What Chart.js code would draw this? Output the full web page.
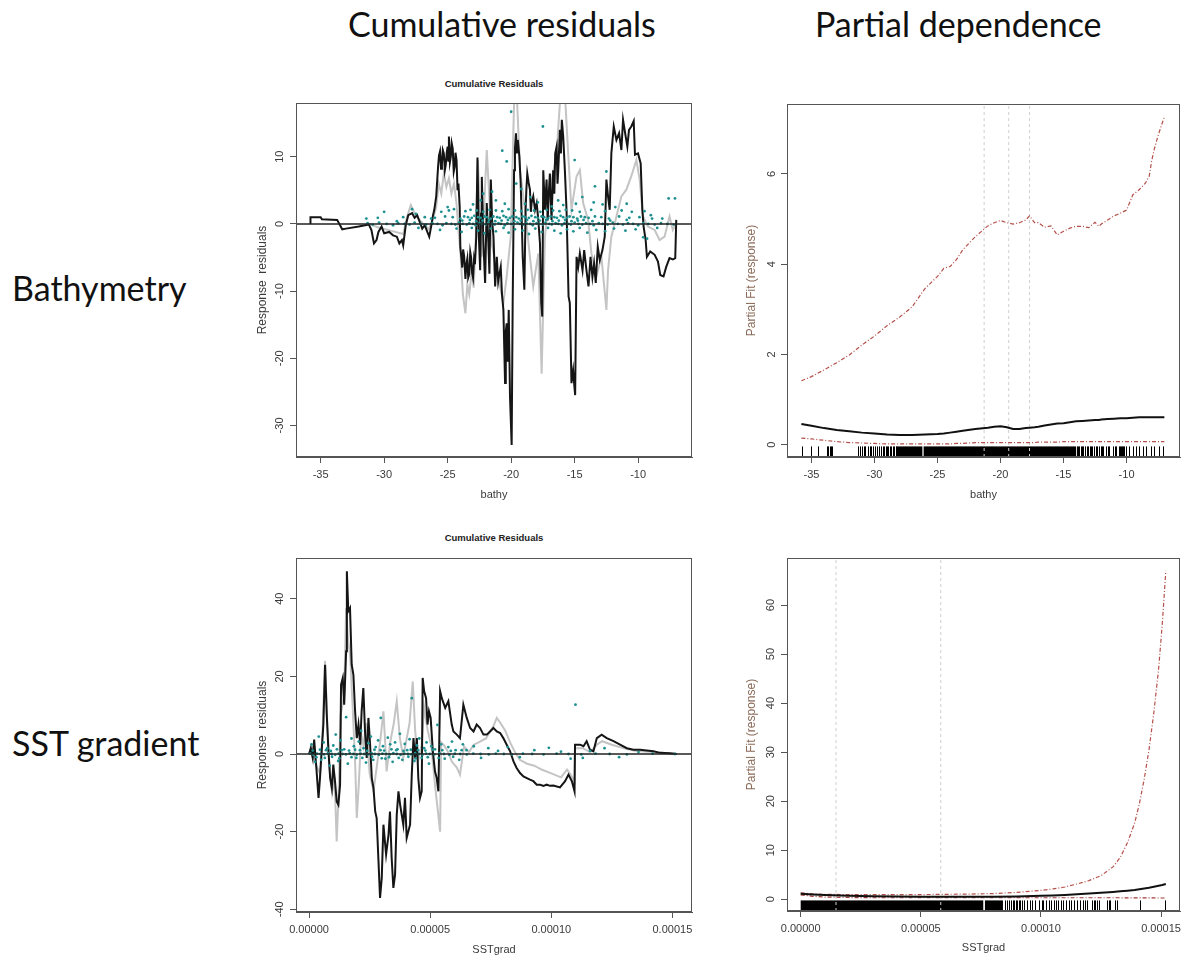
<!DOCTYPE html>
<html>
<head>
<meta charset="utf-8">
<script src="https://cdn.jsdelivr.net/npm/chart.js@4.4.0/dist/chart.umd.min.js"></script>
<style>
  body { margin: 0; background: #fff; width: 1187px; height: 957px; position: relative; overflow: hidden; }
  .head { position: absolute; font-family: Lato, "Open Sans", sans-serif; font-size: 34px; line-height: 1; color: #111; white-space: nowrap; }
  .panel { position: absolute; }
  .ptitle { position: absolute; width: 396px; text-align: center; font: bold 9.5px "Liberation Sans", Arial, sans-serif; color: #222; }
</style>
</head>
<body>
<div class="head" style="left:348px; top:7px;">Cumulative residuals</div>
<div class="head" style="left:815px; top:7px;">Partial dependence</div>
<div class="head" style="left:12px; top:271px;">Bathymetry</div>
<div class="head" style="left:12px; top:726px;">SST gradient</div>

<div class="ptitle" style="left:296px; top:78px;">Cumulative Residuals</div>
<div class="ptitle" style="left:296px; top:532px;">Cumulative Residuals</div>

<canvas class="panel" id="resBathy" width="460" height="440" style="left:240px; top:70px;"></canvas>
<canvas class="panel" id="pdBathy" width="457" height="420" style="left:730px; top:90px;"></canvas>
<canvas class="panel" id="resSst" width="460" height="432" style="left:240px; top:525px;"></canvas>
<canvas class="panel" id="pdSst" width="457" height="417" style="left:730px; top:540px;"></canvas>

<script>
// ---------- bathymetry: cumulative residuals ----------
const bathyObsPath = [[-35.8,0],[-35.8,1.0],[-35.0,1.0],[-34.9,0.7],[-33.7,0.6],[-33.3,-0.8],[-33.0,-0.7],[-32.0,-0.4],[-31.2,-0.1],[-31.0,-0.9],[-30.8,-2.9],[-30.6,-2.4],[-30.45,-1.2],[-30.2,-0.4],[-30.0,-1.4],[-29.6,-1.2],[-29.3,-1.7],[-29.0,-1.9],[-28.8,-2.9],[-28.6,-2.4],[-28.5,-3.2],[-28.3,-0.2],[-28.1,1.3],[-27.8,1.6],[-27.6,0.9],[-27.4,1.3],[-27.2,0.3],[-27.0,-0.7],[-26.8,-0.2],[-26.6,-1.2],[-26.45,-1.9],[-26.3,-0.4],[-26.15,1.3],[-26.05,2.1],[-25.9,4.1],[-25.75,8.6],[-25.68,10.2],[-25.6,10.8],[-25.52,8.2],[-25.45,9.0],[-25.38,11.0],[-25.3,10.5],[-25.22,8.0],[-25.15,8.8],[-25.07,10.6],[-25.0,11.5],[-24.95,9.4],[-24.9,13.0],[-24.82,9.2],[-24.75,10.0],[-24.68,12.0],[-24.6,11.2],[-24.52,7.8],[-24.45,8.5],[-24.38,10.6],[-24.3,9.5],[-24.22,5.0],[-24.15,6.0],[-24.05,2.5],[-24.0,-3.5],[-23.92,-5.0],[-23.85,-6.5],[-23.78,-3.8],[-23.7,-4.8],[-23.6,-8.2],[-23.52,-6.0],[-23.45,-5.2],[-23.38,-8.0],[-23.3,-7.5],[-23.22,-4.2],[-23.15,-5.0],[-23.08,-7.2],[-23.0,-8.0],[-22.92,-5.2],[-22.85,-6.0],[-22.75,-2.0],[-22.65,9.9],[-22.55,-1.5],[-22.44,-6.9],[-22.37,1.5],[-22.31,7.0],[-22.18,-3.0],[-22.05,-8.8],[-21.92,3.1],[-21.8,-2.5],[-21.71,-7.4],[-21.6,6.6],[-21.5,0.5],[-21.39,-1.9],[-21.26,-9.3],[-21.13,-4.9],[-21.02,-8.6],[-20.92,-7.4],[-20.82,-6.4],[-20.72,-10.5],[-20.61,-12.8],[-20.48,-23.7],[-20.42,-16.0],[-20.35,-14.8],[-20.27,-20.5],[-20.19,-12.8],[-20.09,-25.7],[-19.96,-32.9],[-19.88,-11.8],[-19.77,8.0],[-19.7,11.2],[-19.62,13.5],[-19.55,10.5],[-19.48,12.5],[-19.35,10.0],[-19.25,6.1],[-19.17,1.0],[-19.09,-4.9],[-18.96,-9.8],[-18.86,2.1],[-18.8,5.2],[-18.73,7.5],[-18.62,6.1],[-18.52,5.1],[-18.45,1.8],[-18.39,3.1],[-18.26,4.1],[-18.12,2.1],[-17.99,3.1],[-17.86,0.6],[-17.73,-2.9],[-17.63,-11.8],[-17.55,-13.8],[-17.47,8.0],[-17.34,2.1],[-17.21,6.6],[-17.12,0.5],[-17.05,4.1],[-16.95,7.5],[-16.82,0.6],[-16.69,8.0],[-16.6,4.5],[-16.53,10.5],[-16.42,11.5],[-16.35,6.0],[-16.29,8.0],[-16.16,14.0],[-16.08,10.5],[-16.01,15.5],[-15.9,13.0],[-15.77,8.0],[-15.64,2.1],[-15.55,-5.0],[-15.48,-10.8],[-15.38,-11.8],[-15.25,-23.7],[-15.12,-21.8],[-15.04,-23.8],[-14.96,-25.5],[-14.85,-4.9],[-14.72,-6.4],[-14.59,-4.4],[-14.38,-6.9],[-14.25,-3.9],[-14.07,-6.9],[-13.91,-9.3],[-13.75,-4.9],[-13.6,-7.9],[-13.47,-5.9],[-13.34,-8.8],[-13.18,-3.4],[-13.02,-5.4],[-12.81,-3.9],[-12.63,-1.9],[-12.5,6.6],[-12.37,4.1],[-12.24,2.1],[-12.11,10.5],[-11.92,14.5],[-11.71,12.5],[-11.5,13.5],[-11.32,11.0],[-11.19,15.5],[-10.98,13.0],[-10.85,11.5],[-10.72,14.0],[-10.54,14.5],[-10.35,15.3],[-10.25,10.3],[-10.01,10.5],[-9.8,9.0],[-9.67,2.1],[-9.57,-0.4],[-9.41,-2.4],[-9.31,-4.9],[-9.05,-4.1],[-8.7,-4.6],[-8.44,-5.6],[-8.26,-7.6],[-8.0,-7.8],[-7.79,-6.4],[-7.53,-5.1],[-7.27,-5.3],[-7.08,-5.1],[-7.0,0.6]];

const bathySimPath = [[-31.2,0],[-30.5,-0.5],[-29.5,-1.0],[-28.5,-1.5],[-28.2,1.0],[-27.9,2.8],[-27.5,1.2],[-27.0,0.2],[-26.5,-0.8],[-26.2,0.5],[-25.9,2.5],[-25.7,6.0],[-25.5,4.5],[-25.3,7.5],[-25.1,5.5],[-24.9,6.8],[-24.7,4.5],[-24.5,6.0],[-24.3,3.0],[-24.15,-1.0],[-24.0,-4.0],[-23.8,-10.5],[-23.6,-13.3],[-23.45,-9.0],[-23.3,-10.5],[-23.1,-7.0],[-22.95,-9.5],[-22.8,-3.0],[-22.62,9.5],[-22.31,-4.9],[-21.92,11.0],[-21.53,-2.9],[-21.13,-6.9],[-20.61,-11.8],[-20.35,-7.8],[-20.03,-1.9],[-19.75,19.5],[-19.56,19.5],[-19.3,8.0],[-18.91,2.1],[-18.52,-4.9],[-18.26,-9.3],[-17.86,-4.4],[-17.6,-22.3],[-17.34,-1.9],[-16.95,5.1],[-16.42,10.5],[-16.11,19.5],[-15.77,19.5],[-15.51,10.5],[-15.25,2.1],[-14.85,7.1],[-14.59,8.0],[-14.33,3.1],[-13.94,0.6],[-13.68,-4.4],[-13.28,-7.8],[-12.89,-4.9],[-12.5,-12.8],[-12.37,-6.9],[-12.11,-1.9],[-11.71,1.1],[-11.32,4.1],[-10.93,5.1],[-10.54,7.1],[-10.14,9.5],[-9.88,6.6],[-9.62,1.1],[-9.23,-0.4],[-8.7,-0.9],[-8.31,-2.4],[-7.92,-1.9],[-7.53,1.1],[-7.27,-0.9],[-7.0,0.1]];

const bathyResid = [
  [-31.3,0.1],[-30.9,-0.1],[-30.4,0.2],[-29.8,0],[-29.3,-0.2],[-28.9,0.1],[-28.4,0],[-28.0,-0.1],[-27.6,0.2],[-27.1,0],[-26.7,-0.1],[-26.2,0.1],[-25.8,0],[-25.4,-0.2],[-25.1,0.1],[-24.7,0],[-24.4,-0.1],[-24.1,0.2],[-23.8,0],[-23.5,-0.1],[-23.3,0.1],[-23.0,0],[-22.8,-0.2],[-22.5,0.1],[-22.3,0],[-22.0,-0.1],[-21.8,0.2],[-21.5,0],[-21.3,-0.1],[-21.0,0.1],[-20.8,0],[-20.5,-0.2],[-20.3,0.1],[-20.0,0],[-19.8,-0.1],[-19.5,0.2],[-19.3,0],[-19.0,-0.1],[-18.8,0.1],[-18.5,0],[-18.3,-0.2],[-18.0,0.1],[-17.8,0],[-17.5,-0.1],[-17.3,0.2],[-17.0,0],[-16.8,-0.1],[-16.5,0.1],[-16.3,0],[-16.0,-0.2],[-15.8,0.1],[-15.5,0],[-15.3,-0.1],[-15.0,0.2],[-14.7,0],[-14.4,-0.1],[-14.1,0.1],[-13.8,0],[-13.5,-0.2],[-13.1,0.1],[-12.8,0],[-12.4,-0.1],[-12.0,0.2],[-11.6,0],[-11.2,-0.1],[-10.8,0.1],[-10.4,0],[-10.0,-0.2],[-9.6,0.1],[-9.2,0],[-8.7,-0.1],[-8.2,0.1],[-7.7,0],[-7.2,-0.1],
  [-26.0,0.9],[-25.2,1.1],[-24.6,1.0],[-24.0,0.8],[-23.7,1.1],[-23.4,1.0],[-23.1,0.9],[-22.9,1.2],[-22.6,1.0],[-22.4,0.9],[-22.1,1.1],[-21.9,1.0],[-21.6,0.8],[-21.4,1.1],[-21.1,1.0],[-20.9,0.9],[-20.6,1.2],[-20.4,1.0],[-20.1,0.9],[-19.9,1.1],[-19.6,1.0],[-19.4,0.8],[-19.1,1.1],[-18.9,1.0],[-18.6,0.9],[-18.4,1.2],[-18.1,1.0],[-17.9,0.9],[-17.6,1.1],[-17.4,1.0],[-17.1,0.8],[-16.9,1.1],[-16.6,1.0],[-16.4,0.9],[-16.1,1.2],[-15.9,1.0],[-15.6,0.9],[-15.4,1.1],[-15.1,1.0],[-14.8,0.8],[-14.5,1.1],[-14.2,1.0],[-13.9,0.9],[-13.4,1.1],[-12.9,1.0],[-12.3,0.8],[-11.5,1.1],[-10.7,0.9],[-9.9,1.0],[-8.9,0.8],
  [-23.85,0.5],[-23.25,0.6],[-22.75,0.4],[-22.25,0.5],[-21.75,0.6],[-21.25,0.4],[-20.75,0.5],[-20.25,0.6],[-19.75,0.4],[-19.25,0.5],[-18.75,0.6],[-18.25,0.4],[-17.75,0.5],[-17.25,0.6],[-16.75,0.4],[-16.25,0.5],[-15.75,0.6],[-15.25,0.4],[-14.75,0.5],[-14.3,0.6],[-13.6,0.4],[-12.2,0.5],[-10.9,0.6],
  [-24.9,2.0],[-23.6,1.9],[-23.2,2.1],[-22.7,2.0],[-22.2,1.8],[-21.7,2.1],[-21.2,2.0],[-20.7,1.9],[-20.2,2.2],[-19.7,2.0],[-19.2,1.9],[-18.7,2.1],[-18.2,2.0],[-17.7,1.8],[-17.2,2.1],[-16.7,2.0],[-16.2,1.9],[-15.7,2.1],[-15.2,2.0],[-14.6,1.8],[-13.7,2.1],[-12.6,1.9],[-11.3,2.0],[-9.5,1.9],
  [-27.3,-0.6],[-25.6,-0.9],[-24.3,-0.7],[-23.9,-1.2],[-23.1,-0.6],[-22.6,-1.0],[-22.1,-1.4],[-21.6,-0.7],[-21.2,-1.1],[-20.6,-0.6],[-20.2,-1.3],[-19.7,-0.8],[-19.1,-1.0],[-18.6,-1.5],[-18.1,-0.7],[-17.6,-1.2],[-17.1,-0.6],[-16.6,-1.0],[-16.1,-1.4],[-15.6,-0.8],[-15.1,-1.1],[-14.6,-0.6],[-14.0,-1.3],[-13.3,-0.9],[-12.6,-1.1],[-11.9,-0.7],[-11.0,-1.0],[-10.2,-0.8],[-9.6,-2.0],[-9.3,-2.2],[-8.5,-0.6],
  [-20.0,16.7],[-17.5,14.5],[-20.7,10.9],[-20.35,9.3],[-15.0,9.5],[-12.5,7.8],[-13.4,5.6],[-7.6,3.8],[-7.1,3.8],[-19.2,5.2],[-18.5,4.0],[-21.5,4.8],[-21.2,3.5],[-22.4,3.5],[-22.2,4.5],[-20.5,3.0],[-23.0,2.9],[-14.4,4.0],[-13.5,3.2],[-16.3,3.5],[-12.8,2.9],[-17.9,3.2],[-8.1,0.8],[-9.0,1.3],[-10.5,1.8],[-27.8,2.2],[-27.5,1.5],[-28.5,1.0],[-30.0,1.8],[-31.4,0.8],[-30.5,0.9],[-29.0,0.4],[-26.8,1.0],[-26.3,0.8],[-25.5,1.8],[-25.0,2.5],[-24.5,2.2],[-19.6,6.0],[-18.9,3.0],[-16.8,2.6],[-15.9,2.8],[-14.9,3.0],[-11.8,2.5],[-10.9,3.0]
];

// ---------- bathymetry: partial dependence ----------
const bathyGrid  = [-35.8,-35,-34,-33,-32,-31,-30,-29,-28,-27,-26,-25,-24.5,-24,-23.5,-23,-22,-21,-20.5,-20,-19.5,-19,-18.5,-18,-17.7,-17.3,-17,-16.5,-16,-15.5,-15,-14.5,-14,-13.5,-13,-12.5,-12.2,-12,-11.5,-11,-10.5,-10,-9.5,-9,-8.5,-8.2,-8,-7.8,-7.5,-7.2,-7];
const bathyUpper = [1.42,1.51,1.66,1.82,1.99,2.21,2.41,2.64,2.83,3.06,3.46,3.73,3.91,3.95,4.10,4.32,4.61,4.85,4.92,4.97,4.92,4.89,4.92,4.98,5.07,4.92,4.92,4.82,4.85,4.65,4.73,4.80,4.84,4.84,4.81,4.93,4.84,4.89,4.98,5.07,5.13,5.20,5.54,5.65,5.80,5.95,6.30,6.55,6.85,7.10,7.27];
const bathyFit   = [0.46,0.42,0.37,0.33,0.30,0.27,0.25,0.23,0.22,0.22,0.23,0.24,0.25,0.27,0.29,0.31,0.35,0.38,0.40,0.41,0.39,0.35,0.35,0.37,0.38,0.39,0.40,0.43,0.45,0.47,0.48,0.50,0.52,0.53,0.54,0.55,0.55,0.56,0.57,0.58,0.59,0.59,0.60,0.61,0.61,0.61,0.61,0.61,0.61,0.61,0.61];
const bathyLower = [0.15,0.13,0.10,0.07,0.05,0.04,0.03,0.02,0.02,0.02,0.02,0.02,0.02,0.02,0.03,0.03,0.05,0.05,0.05,0.05,0.05,0.05,0.05,0.05,0.05,0.05,0.06,0.06,0.06,0.06,0.07,0.07,0.07,0.07,0.07,0.07,0.07,0.07,0.07,0.07,0.07,0.07,0.07,0.07,0.07,0.07,0.07,0.07,0.07,0.07,0.07];
const bathyKnots = [-21.3, -19.35, -17.7];
const bathyRugTicks = [-35.74,-35.0,-34.5,-33.75,-33.65,-33.55,-33.45,-33.38,-31.34,-31.13,-31.0,-30.86,-30.73,-30.55,-30.39,-30.28,-30.13,-29.94,-29.81,-29.68,-29.49,-29.33,-29.23,-29.12,-29.02,-28.89,-28.75,-28.65,-28.54,-28.44,-28.33,
  -13.95,-13.85,-13.74,-13.62,-13.52,-13.42,-13.31,-13.16,-13.05,-12.94,-12.83,-12.73,-12.55,-12.45,-12.37,-12.15,-12.02,-11.95,-11.84,-11.63,-11.5,-11.36,-11.1,-10.95,-10.84,-10.63,-10.55,-10.44,-10.38,-10.31,-10.2,-10.05,-9.78,-9.52,-9.26,-9.0,-8.73,-8.47,-8.07,-7.81,-7.46,-7.09];
const bathyRugBlocks = [[-28.25,-26.2],[-26.1,-14.0]];

// ---------- SST gradient (x in units of 1e-5): cumulative residuals ----------
const sstObsPath = [[0,0],[0.07,1.5],[0.15,-1.0],[0.21,3.7],[0.29,-2.7],[0.39,-11.3],[0.45,-6.2],[0.52,0.7],[0.59,7.6],[0.66,23.0],[0.73,10.1],[0.80,0.7],[0.87,-6.2],[0.94,-8.8],[1.00,-2.7],[1.07,-7.0],[1.14,-12.2],[1.21,-13.1],[1.28,-7.9],[1.32,17.9],[1.39,19.6],[1.45,12.7],[1.53,26.5],[1.56,47.1],[1.62,36.8],[1.69,37.6],[1.76,23.0],[1.83,20.4],[1.90,11.0],[1.97,4.1],[2.04,7.6],[2.11,2.4],[2.17,11.0],[2.24,17.0],[2.31,5.8],[2.38,-1.0],[2.45,9.3],[2.52,2.4],[2.59,-6.2],[2.66,-8.8],[2.73,-14.8],[2.79,-16.5],[2.86,-26.8],[2.93,-37.1],[3.00,-32.0],[3.07,-18.2],[3.18,-25.9],[3.28,-20.8],[3.34,-14.8],[3.41,-26.8],[3.48,-34.5],[3.55,-31.1],[3.62,-15.6],[3.69,-9.6],[3.76,-13.1],[3.89,-18.2],[3.96,-11.3],[4.03,-21.6],[4.10,-19.9],[4.17,-18.2],[4.24,-5.3],[4.31,4.1],[4.38,-1.0],[4.45,4.1],[4.51,-6.2],[4.58,-11.3],[4.65,-9.6],[4.69,19.6],[4.75,16.2],[4.83,14.4],[4.89,7.6],[4.95,11.0],[5.02,9.3],[5.11,0.7],[5.20,-4.5],[5.27,-6.2],[5.34,-9.6],[5.41,16.2],[5.48,14.4],[5.62,11.9],[5.75,13.6],[5.89,7.6],[5.96,5.8],[6.10,5.0],[6.23,4.1],[6.37,12.7],[6.51,9.3],[6.65,6.7],[6.79,5.8],[6.92,7.6],[7.06,6.7],[7.20,5.0],[7.34,5.0],[7.47,5.8],[7.61,6.7],[7.75,5.8],[7.89,5.4],[8.02,4.1],[8.16,2.4],[8.30,0.7],[8.44,-1.9],[8.57,-3.6],[8.71,-4.9],[8.85,-5.8],[8.99,-6.2],[9.12,-6.6],[9.26,-7.0],[9.40,-7.9],[9.54,-7.9],[9.68,-8.2],[9.81,-7.9],[9.95,-8.2],[10.09,-8.1],[10.36,-8.6],[10.57,-7.0],[10.71,-5.3],[10.85,-7.0],[10.96,-9.6],[10.98,2.4],[11.19,2.4],[11.33,2.0],[11.46,3.3],[11.60,1.1],[11.74,0.7],[11.88,4.1],[12.08,5.0],[12.29,4.1],[12.57,3.3],[12.84,2.4],[13.12,1.5],[13.39,1.1],[13.67,1.1],[13.94,0.9],[14.22,0.7],[14.49,0.3],[14.90,0.2],[15.18,0]];

const sstSimPath = [[0,0],[0.1,2],[0.3,-3],[0.45,-5],[0.55,5],[0.66,24.0],[0.75,8],[0.85,-4],[0.95,-10],[1.05,-6],[1.14,-22.5],[1.22,-10],[1.3,10],[1.45,15],[1.53,37.6],[1.6,30],[1.7,25],[1.8,12],[1.9,-2],[1.97,-16.5],[2.05,-8],[2.15,5],[2.25,2],[2.35,8],[2.5,-5],[2.66,-9.6],[2.8,-3],[2.95,4],[3.07,11.0],[3.15,2],[3.2,-4.5],[3.35,3],[3.5,8],[3.62,13.6],[3.75,4],[3.89,-1.0],[4.0,3],[4.15,8],[4.28,18.7],[4.38,6],[4.5,-2],[4.65,2.4],[4.75,12],[4.9,6],[5.05,2],[5.2,-8],[5.34,-16],[5.41,-20],[5.45,3],[5.55,2.4],[5.7,1],[5.9,-2],[6.1,-3.5],[6.23,-5.3],[6.4,2],[6.6,0.5],[6.8,2.4],[7.0,3],[7.3,4],[7.6,7],[7.75,9.3],[7.9,8],[8.1,6],[8.3,3],[8.5,0.5],[8.7,-1.5],[9.0,-2.5],[9.3,-3.0],[9.6,-4.0],[10.0,-5.0],[10.4,-6.0],[10.65,-4.0],[10.8,-5.3],[10.96,-7.0],[10.98,1.5],[11.3,1.5],[11.6,0.5],[11.9,2.5],[12.1,3.3],[12.5,2.4],[13.0,1.5],[13.5,0.8],[14.2,0.5],[15.18,0]];

const sstResid = [
  [0.05,0.1],[0.18,-0.2],[0.33,0.1],[0.47,0],[0.62,-0.1],[0.78,0.2],[0.93,0],[1.08,-0.2],[1.22,0.1],[1.38,0],[1.52,-0.1],[1.68,0.2],[1.83,0],[1.97,-0.2],[2.12,0.1],[2.28,0],[2.43,-0.1],[2.58,0.2],[2.72,0],[2.88,-0.2],[3.03,0.1],[3.18,0],[3.33,-0.1],[3.48,0.2],[3.62,0],[3.78,-0.2],[3.93,0.1],[4.08,0],[4.22,-0.1],[4.38,0.2],[4.53,0],[4.68,-0.2],[4.83,0.1],[4.98,0],[5.17,-0.1],[5.38,0.2],[5.57,0],[5.79,-0.2],[6.02,0.1],[6.24,0],[6.51,-0.1],[6.78,0.1],[7.08,0],[7.42,-0.1],[7.71,0.1],[8.04,0],[8.38,-0.1],[8.83,0.1],[9.21,0],[9.68,-0.1],[10.22,0.1],[10.71,0],[11.24,-0.1],[11.83,0.1],[12.41,0],[13.12,-0.1],[14.18,0.1],[15.1,0],
  [0.15,0.9],[0.45,1.1],[0.7,1.0],[0.9,0.8],[1.15,1.2],[1.35,1.0],[1.65,0.9],[1.9,1.1],[2.1,1.0],[2.4,0.8],[2.7,1.1],[2.95,1.0],[3.1,0.9],[3.4,1.2],[3.6,1.0],[3.9,0.8],[4.2,1.1],[4.5,1.0],[4.8,0.9],[5.1,1.1],[5.5,1.0],[5.85,0.8],[6.3,1.0],
  [0.3,-0.8],[0.65,-1.0],[0.95,-0.7],[1.25,-1.1],[1.75,-0.8],[2.2,-1.0],[2.6,-0.7],[3.0,-1.1],[3.3,-0.8],[3.7,-1.0],[4.1,-0.7],[4.4,-1.1],[4.9,-0.8],[5.35,-1.0],[5.95,-0.7],
  [0.1,2.5],[0.25,-2],[0.4,4.5],[0.5,-1.5],[0.6,3],[0.75,1.5],[0.85,-3],[1.0,2.2],[1.1,5.0],[1.2,-1.8],[1.3,3.5],[1.45,1.2],[1.53,9.5],[1.6,-2.5],[1.75,4.0],[1.85,2.0],[1.95,-1.0],[2.05,3.2],[2.15,6.0],[2.25,1.5],[2.35,-2.2],[2.45,2.8],[2.55,4.5],[2.65,-1.5],[2.75,1.8],[2.85,3.5],[2.96,9.3],[3.05,2.0],[3.15,-1.2],[3.25,4.2],[3.35,2.5],[3.45,-2.0],[3.55,3.0],[3.65,1.2],[3.75,5.2],[3.85,-1.5],[3.95,2.6],[4.05,1.0],[4.15,3.8],[4.24,14.4],[4.35,-1.8],[4.45,2.2],[4.55,4.0],[4.65,-1.0],[4.75,1.5],[4.85,3.0],[4.95,-2.5],[5.05,2.0],[5.2,1.2],[5.3,7.5],[5.45,2.5],[5.6,-1.2],[5.75,1.8],[5.9,3.2],[6.05,1.0],[6.2,-1.5],[6.35,2.5],[6.5,1.0],[6.8,2.0],[7.1,-1.0],[7.4,1.5],[7.8,0.8],[8.2,1.8],[8.7,-0.8],[9.3,1.0],[9.9,1.6],[10.4,0.6],[10.8,-1.2],[11.0,12.7],[11.3,-1.0],[11.6,0.8],[12.2,1.5],[12.8,-0.8],[13.6,0.5]
];

// ---------- SST gradient: partial dependence ----------
const sstGrid  = [0,0.5,1,2,3,4,5,6,7,8,9,10,10.5,11,11.5,12,12.5,13,13.3,13.6,13.9,14.1,14.3,14.5,14.7,14.9,15.05,15.2];
const sstUpper = [1.3,1.1,1.0,0.95,0.95,0.95,0.95,1.0,1.05,1.15,1.4,1.8,2.1,2.5,3.1,3.8,4.8,6.6,8.5,11.5,15.5,19.5,24.5,30.5,38,47,56,67];
const sstFit   = [1.1,0.95,0.85,0.7,0.6,0.55,0.52,0.5,0.5,0.52,0.58,0.7,0.78,0.88,1.0,1.15,1.3,1.5,1.62,1.75,1.9,2.05,2.2,2.35,2.55,2.75,2.9,3.1];
const sstLower = [0.9,0.6,0.45,0.35,0.3,0.3,0.3,0.3,0.3,0.3,0.3,0.3,0.3,0.3,0.3,0.3,0.3,0.3,0.3,0.28,0.28,0.27,0.27,0.26,0.26,0.25,0.25,0.25];
const sstKnots = [1.47, 5.83];
const sstRugTicks = [8.5,8.6,8.68,8.75,8.82,8.9,8.95,9.02,9.1,9.15,9.22,9.3,9.42,9.55,9.62,9.76,9.9,10.04,10.1,10.22,10.32,10.41,10.53,10.64,10.73,10.83,10.94,11.05,11.15,11.25,11.36,11.5,11.64,11.75,11.85,11.92,12.12,12.19,12.26,12.33,12.4,12.75,12.82,12.89,13.1,13.17,14.14,15.15];
const sstRugBlocks = [[0,7.6],[7.67,8.42]];

// ---------- shared styling ----------
const BOX = '#555';
const SANS = '"Liberation Sans", Arial, sans-serif';
const RED = '#b5504a';
const TICK_FONT = {family: SANS, size: 11};

const toXY = (pairs, k = 1) => pairs.map(([x, y]) => ({x: x * k, y}));
const zip = (xs, ys, k = 1) => xs.map((x, i) => ({x: x * k, y: ys[i]}));

const framePlugin = {
  id: 'frame',
  afterDraw(chart) {
    const {ctx, chartArea: a} = chart;
    ctx.save();
    ctx.strokeStyle = BOX;
    ctx.lineWidth = 1;
    ctx.strokeRect(a.left + 0.5, a.top + 0.5, a.right - a.left - 1, a.bottom - a.top - 1);
    ctx.restore();
  }
};

// rug of observations along the bottom edge, below the curves
function rugPlugin(ticks, blocks) {
  return {
    id: 'rug',
    beforeDatasetsDraw(chart) {
      const {ctx, chartArea: a, scales: {x}} = chart;
      const len = (a.bottom - a.top) * 0.03;
      ctx.save();
      ctx.fillStyle = '#000';
      for (const [f, t] of blocks) {
        const x0 = x.getPixelForValue(f), x1 = x.getPixelForValue(t);
        ctx.fillRect(x0, a.bottom - len, x1 - x0, len);
      }
      ctx.strokeStyle = '#000';
      ctx.lineWidth = 1;
      ctx.beginPath();
      for (const v of ticks) {
        const px = Math.round(x.getPixelForValue(v)) + 0.5;
        ctx.moveTo(px, a.bottom);
        ctx.lineTo(px, a.bottom - len);
      }
      ctx.stroke();
      ctx.restore();
    }
  };
}

function xAxis(min, max, step, label, fmt, height, titlePad) {
  return {
    type: 'linear', min, max,
    border: {display: true, color: BOX},
    grid: {drawOnChartArea: false, drawTicks: true, tickLength: 6, tickColor: BOX},
    ticks: {stepSize: step, includeBounds: false, autoSkip: false, maxRotation: 0, color: '#3a3a3a',
            font: TICK_FONT, padding: 5, callback: fmt},
    title: {display: true, text: label, color: '#3a3a3a', font: TICK_FONT,
            padding: {top: 0, bottom: titlePad}},
    afterFit: s => { s.height = height; }
  };
}

function yAxis(min, max, step, label, width, tickPad, titlePad, titleColor) {
  return {
    type: 'linear', min, max,
    border: {display: true, color: BOX},
    grid: {drawOnChartArea: false, drawTicks: true, tickLength: 6, tickColor: BOX},
    ticks: {stepSize: step, includeBounds: false, autoSkip: false, minRotation: 90, maxRotation: 90,
            crossAlign: 'center', color: '#3a3a3a', font: TICK_FONT, padding: tickPad},
    title: {display: true, text: label, color: titleColor || '#3a3a3a', font: {family: SANS, size: 12},
            padding: {top: titlePad, bottom: 0}},
    afterFit: s => { s.width = width; }
  };
}

const lineSet = (data, color, width, dash) => ({
  data, showLine: true, borderColor: color, borderWidth: width, borderDash: dash || [],
  pointRadius: 0, tension: 0, fill: false
});

const baseOptions = (pad, scales) => ({
  responsive: false, animation: false, events: [],
  layout: {padding: {top: pad.top, right: pad.right, left: 0, bottom: 0}},
  plugins: {legend: {display: false}, tooltip: {enabled: false}},
  scales
});

// ---------- panel 1: bathy cumulative residuals ----------
const b1 = {xmin: -36.94, xmax: -5.76, ymin: -34.7, ymax: 18.0};
new Chart(document.getElementById('resBathy'), {
  type: 'scatter',
  data: {datasets: [
    lineSet([{x: b1.xmin, y: 0}, {x: b1.xmax, y: 0}], '#222', 1.5),
    {data: toXY(bathyResid), pointRadius: 1.4, pointBorderWidth: 0, pointBackgroundColor: '#1f9090'},
    lineSet(toXY(bathyObsPath), '#151515', 2),
    lineSet(toXY(bathySimPath), '#c4c4c4', 2)
  ]},
  options: baseOptions({top: 33, right: 8}, {
    x: xAxis(b1.xmin, b1.xmax, 5, 'bathy', v => String(v), 53, 8),
    y: yAxis(b1.ymin, b1.ymax, 10, 'Response  residuals', 56, 2.4, 15)
  }),
  plugins: [framePlugin]
});

// ---------- panel 2: bathy partial dependence ----------
const b2 = {xmin: -36.94, xmax: -5.76, ymin: -0.27, ymax: 7.55};
new Chart(document.getElementById('pdBathy'), {
  type: 'scatter',
  data: {datasets: [
    lineSet(zip(bathyGrid, bathyFit), '#111', 2),
    lineSet(zip(bathyGrid, bathyUpper), RED, 1.2, [4, 2, 1, 2]),
    lineSet(zip(bathyGrid, bathyLower), RED, 1.2, [4, 2, 1, 2]),
    ...bathyKnots.map(k => lineSet([{x: k, y: b2.ymin}, {x: k, y: b2.ymax}], '#cfcfcf', 1, [3, 3]))
  ]},
  options: baseOptions({top: 14, right: 7}, {
    x: xAxis(b2.xmin, b2.xmax, 5, 'bathy', v => String(v), 53, 8),
    y: yAxis(b2.ymin, b2.ymax, 2, 'Partial Fit (response)', 57, 6.4, 14, '#8a6a58')
  }),
  plugins: [framePlugin, rugPlugin(bathyRugTicks, bathyRugBlocks)]
});

// ---------- panel 3: SST gradient cumulative residuals ----------
const E5 = 1e-5;
const s1 = {xmin: -0.54 * E5, xmax: 15.81 * E5, ymin: -40.7, ymax: 50.5};
new Chart(document.getElementById('resSst'), {
  type: 'scatter',
  data: {datasets: [
    lineSet([{x: s1.xmin, y: 0}, {x: s1.xmax, y: 0}], '#222', 1.5),
    {data: toXY(sstResid, E5), pointRadius: 1.4, pointBorderWidth: 0, pointBackgroundColor: '#1f9090'},
    lineSet(toXY(sstObsPath, E5), '#151515', 2),
    lineSet(toXY(sstSimPath, E5), '#c4c4c4', 2)
  ]},
  options: baseOptions({top: 33, right: 8}, {
    x: xAxis(s1.xmin, s1.xmax, 5 * E5, 'SSTgrad', v => v.toFixed(5), 45, 0),
    y: yAxis(s1.ymin, s1.ymax, 20, 'Response  residuals', 56, 2.4, 15)
  }),
  plugins: [framePlugin]
});

// ---------- panel 4: SST gradient partial dependence ----------
const s2 = {xmin: -0.57 * E5, xmax: 15.79 * E5, ymin: -2.4, ymax: 69.6};
new Chart(document.getElementById('pdSst'), {
  type: 'scatter',
  data: {datasets: [
    lineSet(zip(sstGrid, sstFit, E5), '#111', 2),
    lineSet(zip(sstGrid, sstUpper, E5), RED, 1.2, [4, 2, 1, 2]),
    lineSet(zip(sstGrid, sstLower, E5), '#a03a36', 1.2, [4, 2, 1, 2]),
    ...sstKnots.map(k => lineSet([{x: k * E5, y: s2.ymin}, {x: k * E5, y: s2.ymax}], '#cfcfcf', 1, [3, 3]))
  ]},
  options: baseOptions({top: 18, right: 7}, {
    x: xAxis(s2.xmin, s2.xmax, 5 * E5, 'SSTgrad', v => v.toFixed(5), 46, 2),
    y: yAxis(s2.ymin, s2.ymax, 10, 'Partial Fit (response)', 57, 3.5, 14, '#8a6a58')
  }),
  plugins: [framePlugin, rugPlugin(sstRugTicks.map(v => v * E5), sstRugBlocks.map(([f, t]) => [f * E5, t * E5]))]
});
</script>
</body>
</html>
